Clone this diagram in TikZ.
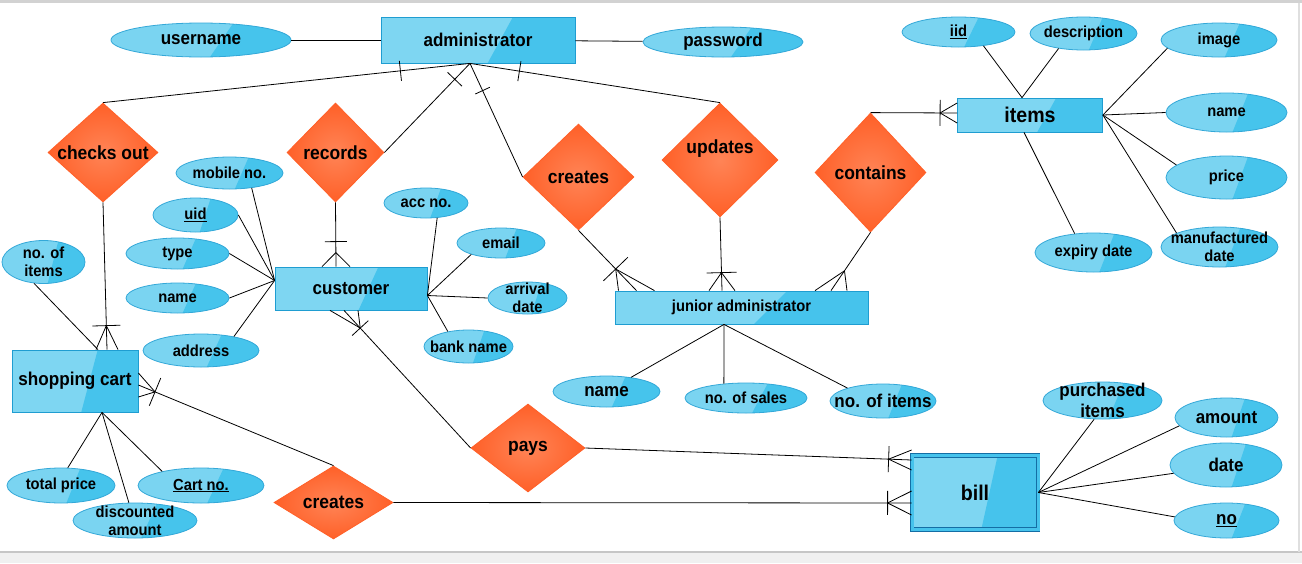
\documentclass[tikz,border=0pt]{standalone}
\usepackage{fontspec}
\setmainfont[FakeStretch=0.92]{Liberation Sans}
\usetikzlibrary{calc,shapes.geometric}

\definecolor{entL}{RGB}{126,214,242}
\definecolor{entD}{RGB}{70,195,236}
\definecolor{entB}{RGB}{31,157,209}
\definecolor{attL}{RGB}{122,212,241}
\definecolor{attD}{RGB}{70,196,236}
\definecolor{attB}{RGB}{52,168,216}
\definecolor{relL}{RGB}{255,132,86}
\definecolor{relD}{RGB}{255,96,40}
\definecolor{billB}{RGB}{20,110,165}

% bar across a connector, #3 away from #1
\newcommand{\crowbar}[4]{%
  \path ($(#1)!#3!(#2)$) coordinate (cb);
  \draw ($(cb)!#4!90:(#2)$) -- ($(cb)!#4!-90:(#2)$);}
% crow's foot at the entity end #1
\newcommand{\crowfoot}[5]{%
  \path ($(#1)!#3!(#2)$) coordinate (cf);
  \draw (cf) -- ([shift={(#5:#4)}]#1) (cf) -- ([shift={(#5:-#4)}]#1);}

\tikzset{
  gloss/.style 2 args={fill=#1, path picture={
    \fill[#2] ($(path picture bounding box.north west)!.68!(path picture bounding box.north east)$)
      -- (path picture bounding box.north east) -- (path picture bounding box.south east)
      -- ($(path picture bounding box.south west)!.55!(path picture bounding box.south east)$) -- cycle;}},
  ent/.style={rectangle, draw=entB, gloss={entL}{entD}, inner sep=0pt},
  attr/.style={ellipse, draw=attB, gloss={attL}{attD}, inner sep=0pt},
  rel/.style={diamond, draw=relD, inner color=relL, outer color=relD, inner sep=0pt},
  big/.style={font=\fontsize{18.5}{21}\selectfont\bfseries, align=center},
  small/.style={font=\fontsize{16}{18}\selectfont\bfseries, align=center},
  rtxt/.style={font=\fontsize{19}{21}\selectfont\bfseries},
  huge/.style={font=\fontsize{21.3}{24}\selectfont\bfseries}
}

\begin{document}
\begin{tikzpicture}[x=1pt, y=-1pt, line width=0.8pt]
  \useasboundingbox (0,0) rectangle (1302,563);
  \fill[white] (0,0) rectangle (1302,563);
  \fill[gray!35] (0,0) rectangle (1302,3);
  \fill[gray!12] (0,552) rectangle (1302,563);
  \draw[gray!45, line width=1.5pt] (0,552) -- (1302,552);
  \draw[gray!25, line width=1.5pt] (1299,3) -- (1299,552);

  % entities
  \node[ent, minimum width=194pt, minimum height=46pt, big] (admin) at (478,40) {administrator};
  \node[ent, minimum width=145pt, minimum height=34pt, huge] (items) at (1030,115) {items};
  \node[ent, minimum width=152pt, minimum height=43pt, big] (cust) at (351,288.5) {customer};
  \node[ent, minimum width=253pt, minimum height=33pt, small] (jadm) at (741.5,307.5) {junior administrator};
  \node[ent, minimum width=126pt, minimum height=62pt, font=\fontsize{18.6}{21}\selectfont\bfseries] (cart) at (75,381) {shopping cart};
  \node[ent, draw=billB, double=entD, double distance=3pt, minimum width=126pt, minimum height=74pt, huge] (bill) at (975,492.5) {bill};

  % relationships
  \node[rel, minimum width=110pt, minimum height=99pt, label={[rtxt]center:checks out}] (chk) at (103,152.5) {};
  \node[rel, minimum width=97pt, minimum height=99pt, label={[rtxt]center:records}] (rec) at (335.5,152.5) {};
  \node[rel, minimum width=111pt, minimum height=106pt, label={[rtxt]center:creates}] (crt) at (578.5,177) {};
  \node[rel, minimum width=116pt, minimum height=114pt, label={[rtxt,yshift=11pt]center:updates}] (upd) at (720,160) {};
  \node[rel, minimum width=111pt, minimum height=119pt, label={[rtxt]center:contains}] (cnt) at (870.5,172.5) {};
  \node[rel, minimum width=114pt, minimum height=88pt, label={[rtxt]center:pays}] (pay) at (528,448) {};
  \node[rel, minimum width=119pt, minimum height=73pt, label={[rtxt]center:creates}] (crt2) at (333.5,502.5) {};

  % attributes
  \node[attr, minimum width=180pt, minimum height=34pt, label={[big]center:username}] (un) at (201,40) {};
  \node[attr, minimum width=160pt, minimum height=30pt, label={[big]center:password}] (pw) at (723,42) {};
  \node[attr, minimum width=113pt, minimum height=30pt, label={[small]center:\underline{iid}}] (iid) at (958.5,32) {};
  \node[attr, minimum width=107pt, minimum height=33pt, label={[small]center:description}] (desc) at (1083.5,33.5) {};
  \node[attr, minimum width=116pt, minimum height=34pt, label={[small]center:image}] (img) at (1219,40) {};
  \node[attr, minimum width=121pt, minimum height=39pt, label={[small]center:name}] (iname) at (1226.5,112.5) {};
  \node[attr, minimum width=121pt, minimum height=43pt, label={[small]center:price}] (price) at (1226.5,177.5) {};
  \node[attr, minimum width=117pt, minimum height=40pt, label={[small]center:manufactured\\date}] (mfd) at (1219.5,247) {};
  \node[attr, minimum width=117pt, minimum height=39pt, label={[small]center:expiry date}] (exp) at (1093.5,252.5) {};
  \node[attr, minimum width=107pt, minimum height=32pt, label={[small]center:mobile no.}] (mob) at (229.5,173) {};
  \node[attr, minimum width=85pt, minimum height=34pt, label={[small]center:\underline{uid}}] (uid) at (195.5,215) {};
  \node[attr, minimum width=103pt, minimum height=31pt, label={[small]center:type}] (type) at (177.5,253.5) {};
  \node[attr, minimum width=103pt, minimum height=30pt, label={[small]center:name}] (cname) at (177.5,298) {};
  \node[attr, minimum width=116pt, minimum height=33pt, label={[small]center:address}] (addr) at (201,350.5) {};
  \node[attr, minimum width=83pt, minimum height=43pt, label={[small]center:no. of\\items}] (nit) at (43.5,262) {};
  \node[attr, minimum width=84pt, minimum height=30pt, label={[small]center:acc no.}] (acc) at (426,203) {};
  \node[attr, minimum width=88pt, minimum height=30pt, label={[small]center:email}] (email) at (501,243) {};
  \node[attr, minimum width=79pt, minimum height=32pt, label={[small]center:arrival\\date}] (arr) at (527.5,298) {};
  \node[attr, minimum width=89pt, minimum height=33pt, label={[small]center:bank name}] (bank) at (468.5,346.5) {};
  \node[attr, minimum width=108pt, minimum height=35pt, label={[small]center:total price}] (tprice) at (61,485.5) {};
  \node[attr, minimum width=126pt, minimum height=35pt, label={[small]center:\underline{Cart no.}}] (cartno) at (201,485.5) {};
  \node[attr, minimum width=124pt, minimum height=35pt, label={[small]center:discounted\\amount}] (disc) at (135,520.5) {};
  \node[attr, minimum width=107pt, minimum height=31pt, label={[big]center:name}] (jname) at (606.5,391.5) {};
  \node[attr, minimum width=122pt, minimum height=30pt, label={[small]center:no. of sales}] (sales) at (746,398) {};
  \node[attr, minimum width=106pt, minimum height=34pt, label={[big]center:no. of items}] (jnit) at (883,401) {};
  \node[attr, minimum width=119pt, minimum height=37pt, label={[big]center:purchased\\items}] (pur) at (1102.5,400.5) {};
  \node[attr, minimum width=103pt, minimum height=39pt, label={[big]center:amount}] (amt) at (1226.5,417.5) {};
  \node[attr, minimum width=112pt, minimum height=44pt, label={[big]center:date}] (date) at (1226,465) {};
  \node[attr, minimum width=105pt, minimum height=35pt, label={[big]center:\underline{no}}] (no) at (1226.5,520.5) {};

  % contact points
  \coordinate (adminS) at ([xshift=-8pt]admin.south);
  \coordinate (custW) at ([yshift=8pt]cust.west);
  \coordinate (custE) at ([yshift=-7pt]cust.east);
  \coordinate (custN) at ([xshift=-15pt]cust.north);
  \coordinate (custS) at ([xshift=-7pt]cust.south);
  \coordinate (itemsN) at ([xshift=-8pt]items.north);
  \coordinate (itemsS) at ([xshift=-6pt]items.south);
  \coordinate (itemsW) at ([yshift=2pt]items.west);
  \coordinate (cartN) at ([xshift=32pt]cart.north);
  \coordinate (cartNa) at ([xshift=23pt]cart.north);
  \coordinate (cartS) at ([xshift=27pt]cart.south);
  \coordinate (cartE) at ([yshift=-4pt]cart.east);
  \coordinate (jadmA) at ([xshift=-105pt]jadm.north);
  \coordinate (jadmB) at ([xshift=-19.5pt]jadm.north);
  \coordinate (jadmC) at ([xshift=89.5pt]jadm.north);
  \coordinate (jadmS) at ([xshift=-17.5pt]jadm.south);
  \coordinate (billA) at ([yshift=32.5pt]bill.west);
  \coordinate (billB) at ([yshift=-10.5pt]bill.west);

  % attribute lines
  \draw (un) -- (admin);
  \draw (pw) -- (admin);
  \draw (mob.-34) -- (custW);
  \draw (uid.east) -- (custW);
  \draw (type.east) -- (custW);
  \draw (cname.east) -- (custW);
  \draw (addr.23) -- (custW);
  \draw (acc.-53) -- (custE);
  \draw (email.201) -- (custE);
  \draw (arr.west) -- (custE);
  \draw (bank.144) -- (custE);
  \draw (iid.-29) -- (itemsN);
  \draw (desc.211) -- (itemsN);
  \draw (img.189) -- (items.east);
  \draw (iname.west) -- (items.east);
  \draw (price.166) -- (items.east);
  \draw (mfd.162) -- (items.east);
  \draw (exp.135) -- (itemsS);
  \draw (nit.-114) -- (cartNa);
  \draw (tprice.69) -- (cartS);
  \draw (disc.109) -- (cartS);
  \draw (cartno.160) -- (cartS);
  \draw (jname.30) -- (jadmS);
  \draw (sales.147) -- (jadmS);
  \draw (jnit.160) -- (jadmS);
  \draw (pur.-114) -- (bill.east);
  \draw (amt.190) -- (bill.east);
  \draw (date.189) -- (bill.east);
  \draw (no.176) -- (bill.east);

  % relationship lines
  \draw (adminS) -- (chk.north);
  \draw (adminS) -- (rec.east);
  \draw (adminS) -- (crt.west);
  \draw (adminS) -- (upd.north);
  \crowbar{adminS}{chk.north}{70pt}{10pt}
  \crowbar{adminS}{rec.east}{22pt}{10pt}
  \crowbar{adminS}{crt.west}{30pt}{8pt}
  \crowbar{adminS}{upd.north}{50pt}{10pt}

  \draw (chk.south) -- (cartN);
  \crowfoot{cartN}{chk.south}{24pt}{11}{0}
  \crowbar{cartN}{chk.south}{24pt}{14pt}
  \draw (rec.south) -- (custN);
  \crowfoot{custN}{rec.south}{14pt}{14}{0}
  \crowbar{custN}{rec.south}{25pt}{11pt}
  \draw (crt.south) -- (jadmA);
  \crowfoot{jadmA}{crt.south}{30pt}{18}{0}
  \crowbar{jadmA}{crt.south}{30pt}{17pt}
  \draw (upd.south) -- (jadmB);
  \crowfoot{jadmB}{upd.south}{18pt}{13}{0}
  \crowbar{jadmB}{upd.south}{18pt}{15pt}
  \draw (cnt.south) -- (jadmC);
  \crowfoot{jadmC}{cnt.south}{24pt}{16}{0}
  \draw (cnt.north) -- (itemsW);
  \crowfoot{itemsW}{cnt.north}{17pt}{10}{90}
  \crowbar{itemsW}{cnt.north}{17pt}{13pt}
  \draw (pay.east) -- (billA);
  \crowfoot{billA}{pay.east}{23pt}{10}{90}
  \crowbar{billA}{pay.east}{23pt}{13pt}
  \draw (crt2.east) -- (billB);
  \crowfoot{billB}{crt2.east}{24pt}{12}{90}
  \crowbar{billB}{crt2.east}{24pt}{12pt}
  \draw (pay.west) -- (custS);
  \crowfoot{custS}{pay.west}{24pt}{14}{0}
  \crowbar{custS}{pay.west}{24pt}{11pt}
  \draw (crt2.north) -- (cartE);
  \crowfoot{cartE}{crt2.north}{18pt}{12}{90}
  \crowbar{cartE}{crt2.north}{18pt}{15pt}
\end{tikzpicture}
\end{document}
